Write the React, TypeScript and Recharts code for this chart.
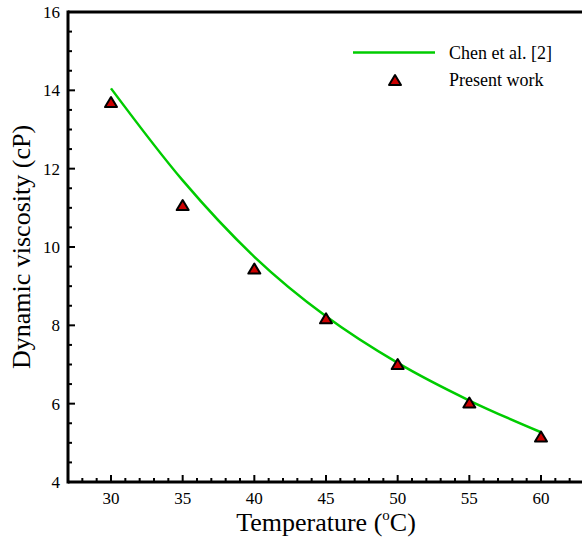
import React from 'react';
import {
  ComposedChart,
  Line,
  Scatter,
  XAxis,
  YAxis,
  ReferenceLine,
  Customized,
} from 'recharts';

// Chen et al. [2] correlation
const chenTemps = [30, 35, 40, 45, 50, 55, 60];
const chenVisc = [14.05, 11.7, 9.75, 8.23, 7.04, 6.08, 5.27];

// present work (triangles)
const workTemps = [30, 35, 40, 45, 50, 55, 60];
const workVisc = [13.7, 11.07, 9.45, 8.18, 7.01, 6.03, 5.16];

const xMajor = [30, 35, 40, 45, 50, 55, 60];
const xTicks = Array.from({ length: 37 }, (_, i) => 27 + i);
const yMajor = [4, 6, 8, 10, 12, 14, 16];
const yTicks = Array.from({ length: 25 }, (_, i) => 4 + i * 0.5);

const chenData = chenTemps.map((t, i) => ({ t, v: chenVisc[i] }));
const workData = workTemps.map((t, i) => ({ t, v: workVisc[i] }));

const FONT = "'Liberation Serif', 'Times New Roman', serif";
const GREEN = '#00cc00';
const RED = '#cc0000';

function Tri({ cx, cy }: { cx?: number; cy?: number }) {
  if (cx == null || cy == null) return null;
  return (
    <polygon
      points={`${cx},${cy - 5} ${cx - 6},${cy + 5} ${cx + 6},${cy + 5}`}
      fill={RED}
      stroke="#000"
      strokeWidth={2}
      strokeLinejoin="round"
    />
  );
}

function XTick(props: any) {
  const { x, y, payload } = props;
  const major = xMajor.includes(payload.value);
  return (
    <g>
      <line x1={x} y1={y} x2={x} y2={y - (major ? 7 : 4)} stroke="#000" strokeWidth={2} />
      {major && (
        <text x={x} y={y + 22} textAnchor="middle" fontFamily={FONT} fontSize={17} fill="#000">
          {payload.value}
        </text>
      )}
    </g>
  );
}

function YTick(props: any) {
  const { x, y, payload } = props;
  const major = yMajor.includes(payload.value);
  return (
    <g>
      {payload.value === 4 && (
        <line x1={x} y1={y + 1.5} x2={x} y2={y - 471.5} stroke="#000" strokeWidth={3} />
      )}
      <line x1={x} y1={y} x2={x + (major ? 7 : 4)} y2={y} stroke="#000" strokeWidth={2} />
      {major && (
        <text x={x - 8} y={y + 6} textAnchor="end" fontFamily={FONT} fontSize={17} fill="#000">
          {payload.value}
        </text>
      )}
    </g>
  );
}

function LegendBox() {
  return (
    <g fontFamily={FONT} fontSize={18} fill="#000">
      <line x1={353} y1={52.5} x2={435} y2={52.5} stroke={GREEN} strokeWidth={2.5} />
      <text x={449} y={58.5}>Chen et al. [2]</text>
      <Tri cx={395} cy={80} />
      <text x={449} y={86}>Present work</text>
    </g>
  );
}

function Labels() {
  return (
    <g fontFamily={FONT} fill="#000">
      <text x={326} y={531} textAnchor="middle" fontSize={26}>
        Temperature (<tspan fontSize={15} dy={-11}>o</tspan>
        <tspan dy={11}>C)</tspan>
      </text>
      <text
        x={0}
        y={0}
        transform="translate(30,247) rotate(-90)"
        textAnchor="middle"
        fontSize={26}
      >
        Dynamic viscosity (cP)
      </text>
    </g>
  );
}

export default function App() {
  return (
    <div
      style={{
        position: 'fixed',
        left: 0,
        top: 0,
        width: 582,
        height: 540,
        overflow: 'hidden',
        background: '#fff',
      }}
    >
      <ComposedChart
        width={600}
        height={540}
        margin={{ top: 12, right: 16, bottom: 28, left: 8 }}
      >
        <XAxis
          type="number"
          dataKey="t"
          domain={[27, 63]}
          ticks={xTicks}
          interval={0}
          allowDataOverflow
          tickSize={0}
          tickMargin={0}
          tickLine={false}
          tick={<XTick />}
          axisLine={false}
          height={30}
        />
        <YAxis
          type="number"
          dataKey="v"
          domain={[4, 16]}
          ticks={yTicks}
          interval={0}
          allowDataOverflow
          tickSize={0}
          tickMargin={0}
          tickLine={false}
          tick={<YTick />}
          axisLine={false}
          width={60}
        />
        <ReferenceLine y={16} stroke="#000" strokeWidth={3} ifOverflow="visible" />
        <ReferenceLine y={4} stroke="#000" strokeWidth={3} ifOverflow="visible" />
        <Line
          data={chenData}
          dataKey="v"
          type="monotone"
          stroke={GREEN}
          strokeWidth={2.5}
          dot={false}
          isAnimationActive={false}
        />
        <Scatter
          data={workData}
          dataKey="v"
          shape={<Tri />}
          isAnimationActive={false}
        />
        <Customized component={LegendBox} />
        <Customized component={Labels} />
      </ComposedChart>
    </div>
  );
}
